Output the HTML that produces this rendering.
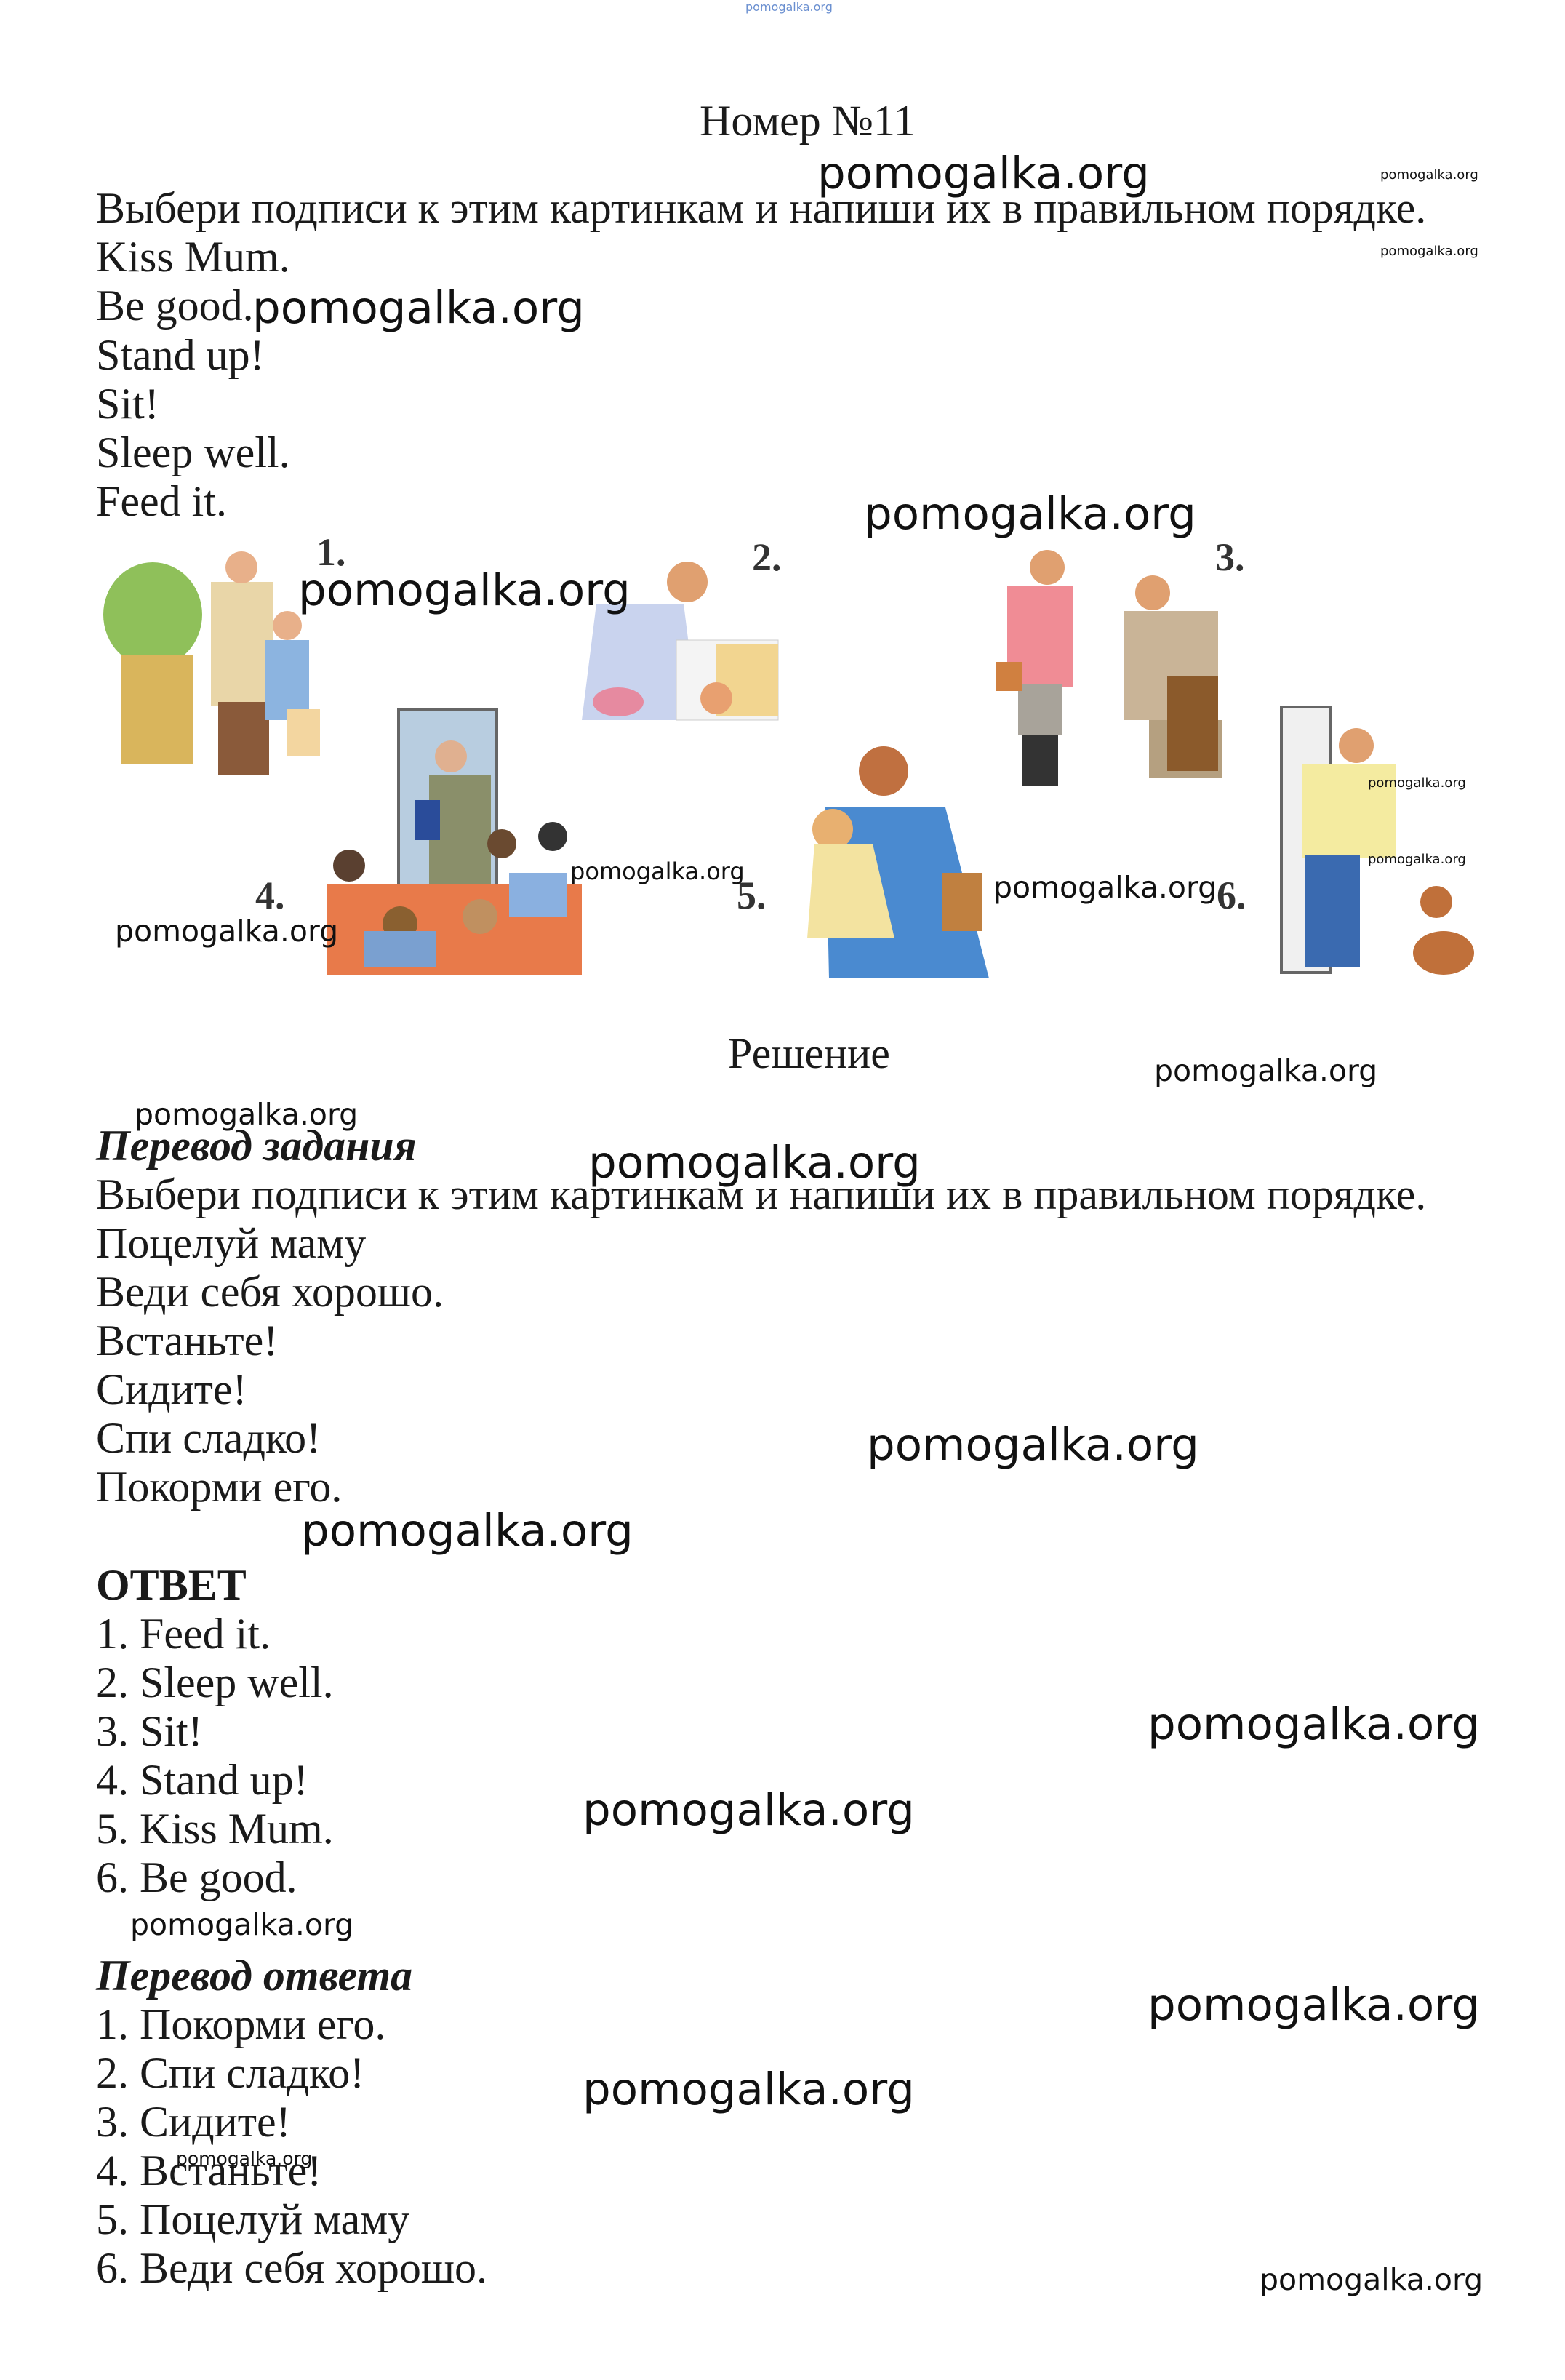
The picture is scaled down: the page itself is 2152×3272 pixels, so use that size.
<!DOCTYPE html>
<html><head><meta charset="utf-8"><style>
html,body{margin:0;padding:0;background:#fff;}
body{width:2152px;height:3272px;position:relative;overflow:hidden;}
.t{position:absolute;left:132px;font-family:"Liberation Serif","DejaVu Serif",serif;font-size:60px;color:#1a1a1a;white-space:nowrap;line-height:1;}
.w{position:absolute;font-family:"DejaVu Sans","Liberation Sans",sans-serif;color:#111;white-space:nowrap;line-height:1;}
.L{font-size:61px;}
.M{font-size:41px;}
.S{font-size:18px;}
.n{position:absolute;font-family:"Liberation Serif",serif;font-weight:bold;font-size:54px;color:#333;}
</style></head><body>
<div class="w" style="left:1025px;top:2px;font-size:16px;color:#6a8fd0;">pomogalka.org</div>

<div class="t" style="left:962px;top:136px;">Номер №11</div>
<div class="t" style="top:256px;">Выбери подписи к этим картинкам и напиши их в правильном порядке.</div>
<div class="t" style="top:323px;">Kiss Mum.</div>
<div class="t" style="top:390px;">Be good.</div>
<div class="t" style="top:458px;">Stand up!</div>
<div class="t" style="top:525px;">Sit!</div>
<div class="t" style="top:592px;">Sleep well.</div>
<div class="t" style="top:659px;">Feed it.</div>

<svg style="position:absolute;left:0;top:0" width="2152" height="1400">
 <ellipse cx="210" cy="845" rx="68" ry="72" fill="#8fc05a"/>
 <rect x="166" y="900" width="100" height="150" fill="#d9b55c"/>
 <rect x="290" y="800" width="85" height="170" fill="#e9d6a8"/>
 <circle cx="332" cy="780" r="22" fill="#e8b08a"/>
 <rect x="300" y="965" width="70" height="100" fill="#8a5a3a"/>
 <rect x="365" y="880" width="60" height="110" fill="#8cb4e0"/>
 <circle cx="395" cy="860" r="20" fill="#e8b08a"/>
 <rect x="395" y="975" width="45" height="65" fill="#f3d6a0"/>
 <circle cx="945" cy="800" r="28" fill="#e0a070"/>
 <path d="M820 830 L940 830 L960 990 L800 990Z" fill="#c9d3ee"/>
 <rect x="930" y="880" width="140" height="110" fill="#f4f4f4" stroke="#ccc"/>
 <rect x="985" y="885" width="85" height="100" fill="#f2d590"/>
 <circle cx="985" cy="960" r="22" fill="#e8a070"/>
 <ellipse cx="850" cy="965" rx="35" ry="20" fill="#e68aa0"/>
 <circle cx="1440" cy="780" r="24" fill="#e0a070"/>
 <rect x="1385" y="805" width="90" height="140" fill="#f08c95"/>
 <rect x="1400" y="940" width="60" height="70" fill="#a8a39a"/>
 <rect x="1405" y="1010" width="50" height="70" fill="#333"/>
 <rect x="1370" y="910" width="35" height="40" fill="#d08040"/>
 <circle cx="1585" cy="815" r="24" fill="#e0a070"/>
 <rect x="1545" y="840" width="130" height="150" fill="#c9b497"/>
 <rect x="1580" y="990" width="100" height="80" fill="#b5a080"/>
 <rect x="1605" y="930" width="70" height="130" fill="#8b5a2b"/>
 <rect x="548" y="975" width="135" height="260" fill="#b8cde0" stroke="#666" stroke-width="4"/>
 <circle cx="620" cy="1040" r="22" fill="#e0b090"/>
 <rect x="590" y="1065" width="85" height="160" fill="#8a8f6a"/>
 <rect x="570" y="1100" width="35" height="55" fill="#2a4c9a"/>
 <rect x="450" y="1215" width="350" height="125" fill="#e87a4a"/>
 <circle cx="480" cy="1190" r="22" fill="#5a4030"/><circle cx="550" cy="1270" r="24" fill="#8a6030"/>
 <circle cx="690" cy="1160" r="20" fill="#6a4a30"/><circle cx="760" cy="1150" r="20" fill="#333"/>
 <circle cx="660" cy="1260" r="24" fill="#c09060"/><rect x="500" y="1280" width="100" height="50" fill="#7aa0d0"/>
 <rect x="700" y="1200" width="80" height="60" fill="#8ab0e0"/>
 <circle cx="1215" cy="1060" r="34" fill="#c07040"/>
 <path d="M1135 1110 L1300 1110 L1360 1345 L1140 1345Z" fill="#4a8ad0"/>
 <rect x="1295" y="1200" width="55" height="80" fill="#c08040"/>
 <circle cx="1145" cy="1140" r="28" fill="#e8b070"/>
 <path d="M1120 1160 L1200 1160 L1230 1290 L1110 1290Z" fill="#f3e3a0"/>
 <rect x="1762" y="972" width="68" height="365" fill="#f0f0f0" stroke="#666" stroke-width="4"/>
 <circle cx="1865" cy="1025" r="24" fill="#e0a070"/>
 <rect x="1790" y="1050" width="130" height="130" fill="#f4eba0"/>
 <rect x="1795" y="1175" width="75" height="155" fill="#3a6ab0"/>
 <ellipse cx="1985" cy="1310" rx="42" ry="30" fill="#c0703a"/>
 <circle cx="1975" cy="1240" r="22" fill="#c0703a"/>
</svg>
<div class="n" style="left:435px;top:728px;">1.</div>
<div class="n" style="left:1034px;top:735px;">2.</div>
<div class="n" style="left:1671px;top:735px;">3.</div>
<div class="n" style="left:351px;top:1200px;">4.</div>
<div class="n" style="left:1013px;top:1200px;">5.</div>
<div class="n" style="left:1673px;top:1200px;">6.</div>

<div class="t" style="left:1001px;top:1418px;">Решение</div>
<div class="t" style="top:1545px;font-weight:bold;font-style:italic;">Перевод задания</div>
<div class="t" style="top:1612px;">Выбери подписи к этим картинкам и напиши их в правильном порядке.</div>
<div class="t" style="top:1679px;">Поцелуй маму</div>
<div class="t" style="top:1746px;">Веди себя хорошо.</div>
<div class="t" style="top:1813px;">Встаньте!</div>
<div class="t" style="top:1880px;">Сидите!</div>
<div class="t" style="top:1947px;">Спи сладко!</div>
<div class="t" style="top:2014px;">Покорми его.</div>

<div class="t" style="top:2149px;font-weight:bold;">ОТВЕТ</div>
<div class="t" style="top:2216px;">1. Feed it.</div>
<div class="t" style="top:2283px;">2. Sleep well.</div>
<div class="t" style="top:2350px;">3. Sit!</div>
<div class="t" style="top:2417px;">4. Stand up!</div>
<div class="t" style="top:2484px;">5. Kiss Mum.</div>
<div class="t" style="top:2551px;">6. Be good.</div>

<div class="t" style="top:2686px;font-weight:bold;font-style:italic;">Перевод ответа</div>
<div class="t" style="top:2753px;">1. Покорми его.</div>
<div class="t" style="top:2820px;">2. Спи сладко!</div>
<div class="t" style="top:2887px;">3. Сидите!</div>
<div class="t" style="top:2954px;">4. Встаньте!</div>
<div class="t" style="top:3021px;">5. Поцелуй маму</div>
<div class="t" style="top:3088px;">6. Веди себя хорошо.</div>

<div class="w L" style="left:1124px;top:208px;">pomogalka.org</div>
<div class="w S" style="left:1898px;top:232px;">pomogalka.org</div>
<div class="w S" style="left:1898px;top:337px;">pomogalka.org</div>
<div class="w L" style="left:347px;top:393px;">pomogalka.org</div>
<div class="w L" style="left:1188px;top:676px;">pomogalka.org</div>
<div class="w L" style="left:410px;top:781px;">pomogalka.org</div>
<div class="w" style="left:784px;top:1182px;font-size:32px;">pomogalka.org</div>
<div class="w M" style="left:158px;top:1260px;">pomogalka.org</div>
<div class="w M" style="left:1366px;top:1200px;">pomogalka.org</div>
<div class="w S" style="left:1881px;top:1068px;">pomogalka.org</div>
<div class="w S" style="left:1881px;top:1173px;">pomogalka.org</div>
<div class="w M" style="left:1587px;top:1452px;">pomogalka.org</div>
<div class="w M" style="left:185px;top:1512px;">pomogalka.org</div>
<div class="w L" style="left:809px;top:1568px;">pomogalka.org</div>
<div class="w L" style="left:1192px;top:1956px;">pomogalka.org</div>
<div class="w L" style="left:414px;top:2074px;">pomogalka.org</div>
<div class="w L" style="left:1578px;top:2340px;">pomogalka.org</div>
<div class="w L" style="left:801px;top:2458px;">pomogalka.org</div>
<div class="w M" style="left:179px;top:2626px;">pomogalka.org</div>
<div class="w L" style="left:1578px;top:2726px;">pomogalka.org</div>
<div class="w L" style="left:801px;top:2842px;">pomogalka.org</div>
<div class="w" style="left:242px;top:2955px;font-size:25px;">pomogalka.org</div>
<div class="w M" style="left:1732px;top:3114px;">pomogalka.org</div>
</body></html>
